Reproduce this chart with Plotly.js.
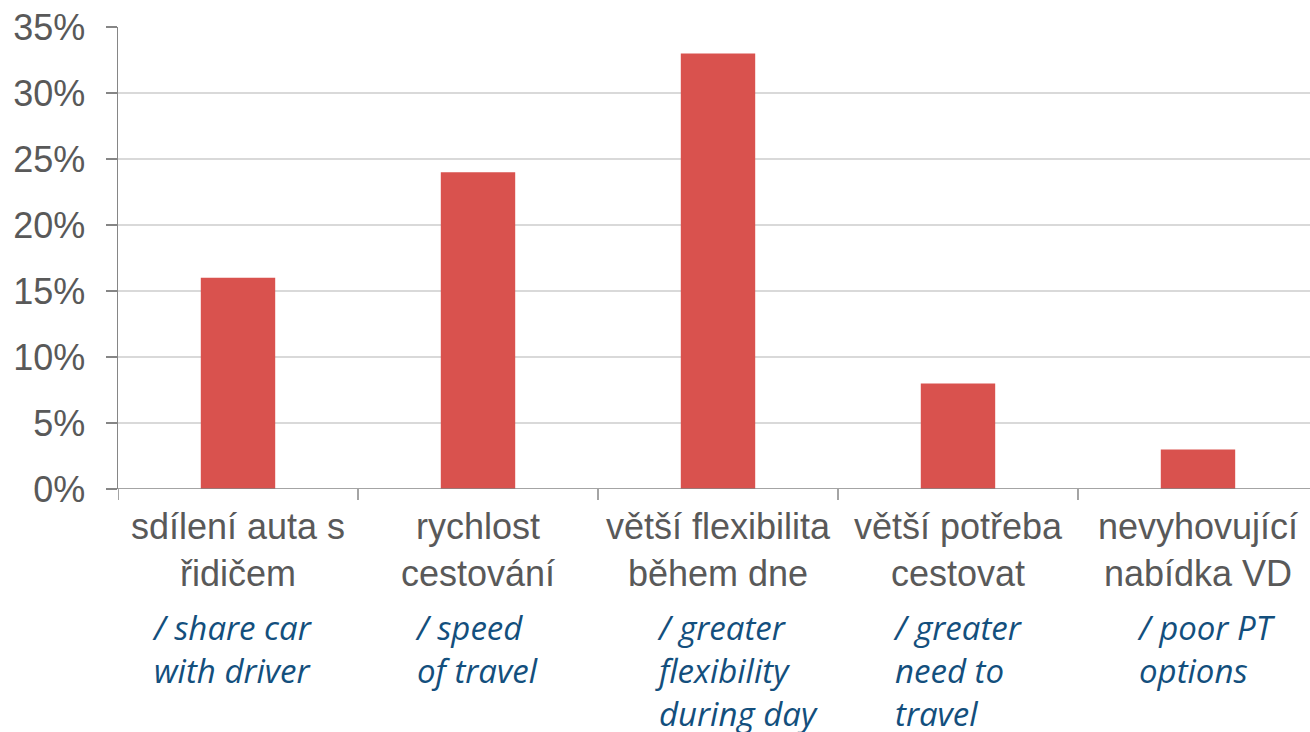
<!DOCTYPE html>
<html>
<head>
<meta charset="utf-8">
<script src="https://cdn.plot.ly/plotly-3.0.1.min.js"></script>
<style>html,body{margin:0;padding:0;background:#fff;}#chart{width:1310px;height:732px;}</style>
</head>
<body>
<div id="chart"></div>
<script>
const categories = ["sdílení auta s<br>řidičem", "rychlost<br>cestování", "větší flexibilita<br>během dne", "větší potřeba<br>cestovat", "nevyhovující<br>nabídka VD"];
const englishLabels = ["/ share car<br>with driver", "/ speed<br>of travel", "/ greater<br>flexibility<br>during day", "/ greater<br>need to<br>travel", "/ poor PT<br>options"];
const values = [0.16, 0.24, 0.33, 0.08, 0.03];
const yTickValues = [0, 0.05, 0.10, 0.15, 0.20, 0.25, 0.30, 0.35];
const yTickLabels = ["0%", "5%", "10%", "15%", "20%", "25%", "30%", "35%"];

const idx = categories.map((_, i) => i);
const engShift = [-88, -65, -65, -67, -63];

const trace = {
  type: 'bar',
  x: idx,
  y: values,
  marker: {color: '#D9524E'},
  width: 0.31,
  hoverinfo: 'none'
};

const annotations = englishLabels.map((t, i) => ({
  text: t,
  x: idx[i], xref: 'x',
  y: 0, yref: 'paper',
  xanchor: 'left', yanchor: 'top',
  xshift: engShift[i], yshift: -114,
  align: 'left',
  showarrow: false,
  font: {family: '"Open Sans", sans-serif', size: 33, color: '#134F7D', style: 'italic'}
}));

const boundaryTicks = [0, 1, 2, 3, 4].map(i => ({
  type: 'line', xref: 'x', yref: 'paper', ysizemode: 'pixel', yanchor: 0,
  x0: i - 0.5, x1: i - 0.5, y0: 0, y1: -11,
  line: {color: '#868686', width: 1.5}
}));

const layout = {
  width: 1310, height: 732,
  margin: {l: 118, r: 0, t: 27, b: 243},
  paper_bgcolor: '#fff', plot_bgcolor: '#fff',
  showlegend: false,
  font: {family: 'Arial, "Liberation Sans", sans-serif', color: '#595959'},
  xaxis: {
    type: 'linear',
    range: [-0.5, 4.4667],
    tickvals: idx,
    ticktext: categories,
    showgrid: false,
    zeroline: false,
    showline: false,
    ticks: '',
    tickfont: {size: 36, color: '#595959'},
    ticklabelstandoff: 13,
    fixedrange: true
  },
  yaxis: {
    range: [0, 0.35],
    tickvals: yTickValues,
    ticktext: yTickLabels,
    showgrid: true, gridcolor: '#D9D9D9', gridwidth: 1.5,
    zeroline: false,
    showline: true, linecolor: '#868686', linewidth: 1.5,
    ticks: 'outside', ticklen: 11, tickcolor: '#868686', tickwidth: 1.5,
    tickfont: {size: 36, color: '#595959'},
    ticklabelstandoff: 13,
    fixedrange: true
  },
  shapes: [
    {type: 'line', xref: 'paper', yref: 'y', x0: 0, x1: 1, y0: 0, y1: 0, line: {color: '#868686', width: 1.5}, layer: 'above'}
  ].concat(boundaryTicks),
  annotations: annotations
};

Plotly.newPlot('chart', [trace], layout, {displayModeBar: false, staticPlot: true});
</script>
</body>
</html>
